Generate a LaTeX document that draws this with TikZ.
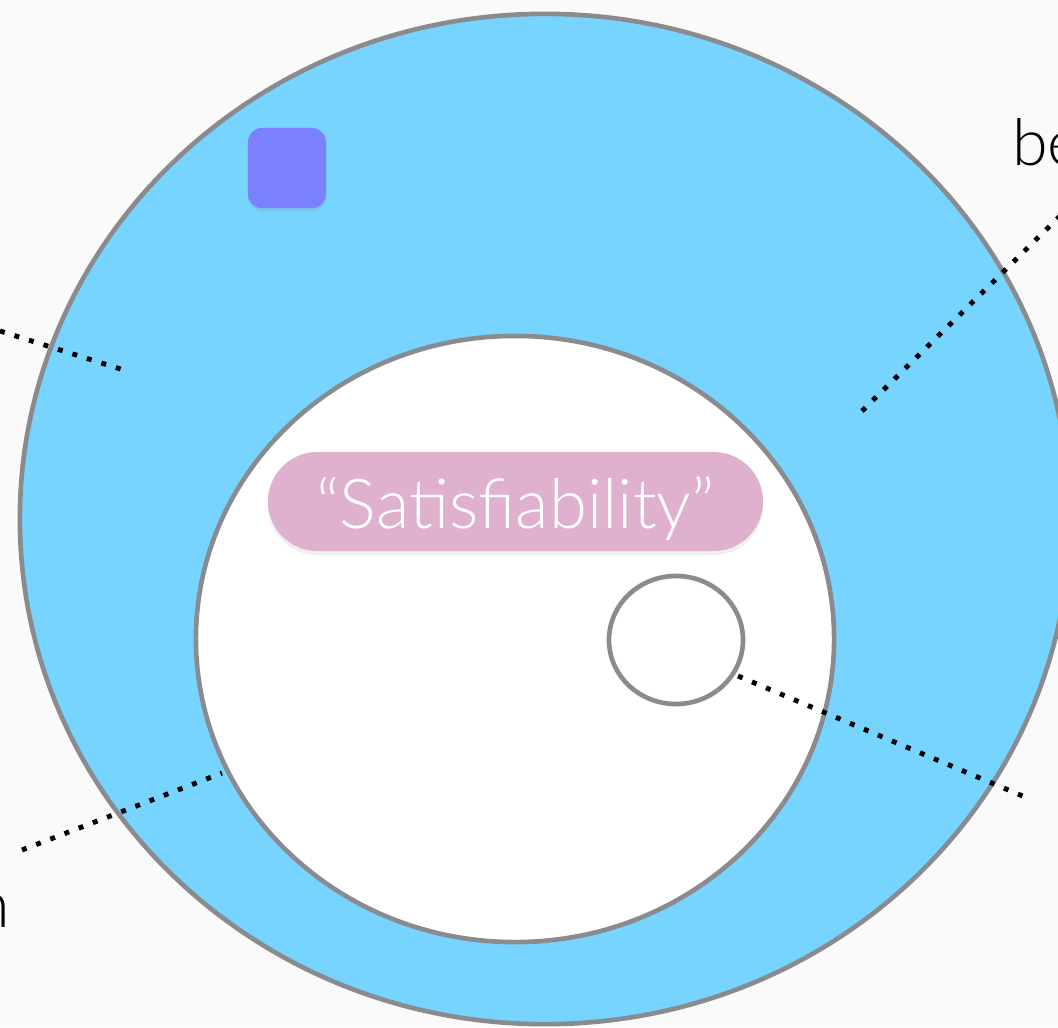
\documentclass[tikz,border=0pt]{standalone}
\usepackage{fontspec}
\setmainfont{Lato}
\newfontfamily\lightfont{Lato Light}
\usetikzlibrary{shapes.geometric,shapes.misc,shadows}
\definecolor{bgc}{RGB}{250,250,250}
\definecolor{ringblue}{RGB}{118,212,255}
\definecolor{rimgray}{RGB}{137,139,143}
\definecolor{pillpink}{RGB}{223,177,207}
\definecolor{sqblue}{RGB}{123,128,255}
\tikzset{
  ring/.style={shape=ellipse, draw=rimgray, line width=3.3pt, inner sep=0pt},
  dotline/.style={line width=3.5pt, dash pattern=on 3.5pt off 7.3pt, line cap=butt, black},
  lbl/.style={font=\lightfont\fontsize{46}{55}\selectfont, inner sep=0pt, text=black},
}
\begin{document}
\begin{tikzpicture}[x=0.025cm,y=-0.025cm]
\fill[bgc] (0,0) rectangle (1058,1027);
\useasboundingbox (0,0) rectangle (1058,1027);
\node[ring, fill=ringblue, minimum width=26.25cm, minimum height=25.25cm] (outer) at (545,519) {};
\node[ring, fill=white, minimum width=15.95cm, minimum height=15.15cm] (inner) at (515,639) {};
\node[ring, fill=white, minimum width=3.35cm, minimum height=3.2cm] (small) at (676,640) {};
\node[fill=sqblue, rounded corners=0.35cm, minimum width=1.95cm, minimum height=2.0cm, inner sep=0pt,
      drop shadow={opacity=0.18, shadow xshift=0pt, shadow yshift=-2pt}] (square) at (287,168) {};
\node[shape=rounded rectangle, fill=pillpink, minimum width=12.375cm, minimum height=2.475cm, inner sep=0pt,
      drop shadow={opacity=0.12, shadow xshift=0pt, shadow yshift=-3pt}] (pill) at (515.5,501.5) {};
\node[text=white, font=\lightfont\fontsize{49}{58}\selectfont, inner sep=0pt, anchor=base] (pilltext) at (515.5,528) {“Satisfiability”};
\node[lbl, anchor=base west] (be) at (1012,165) {be};
\node[lbl, anchor=base east] (nlbl) at (10,927) {n};
\coordinate (a1) at (0,331);
\coordinate (a2) at (130,372);
\coordinate (b1) at (862,411);
\coordinate (b2) at (1060,216);
\coordinate (c1) at (22,850);
\coordinate (c2) at (222,773);
\coordinate (d1) at (738,676);
\coordinate (d2) at (1025,797);
\draw[dotline] (a1) -- (a2);
\draw[dotline] (b1) -- (b2);
\draw[dotline] (c1) -- (c2);
\draw[dotline] (d1) -- (d2);
\end{tikzpicture}
\end{document}
